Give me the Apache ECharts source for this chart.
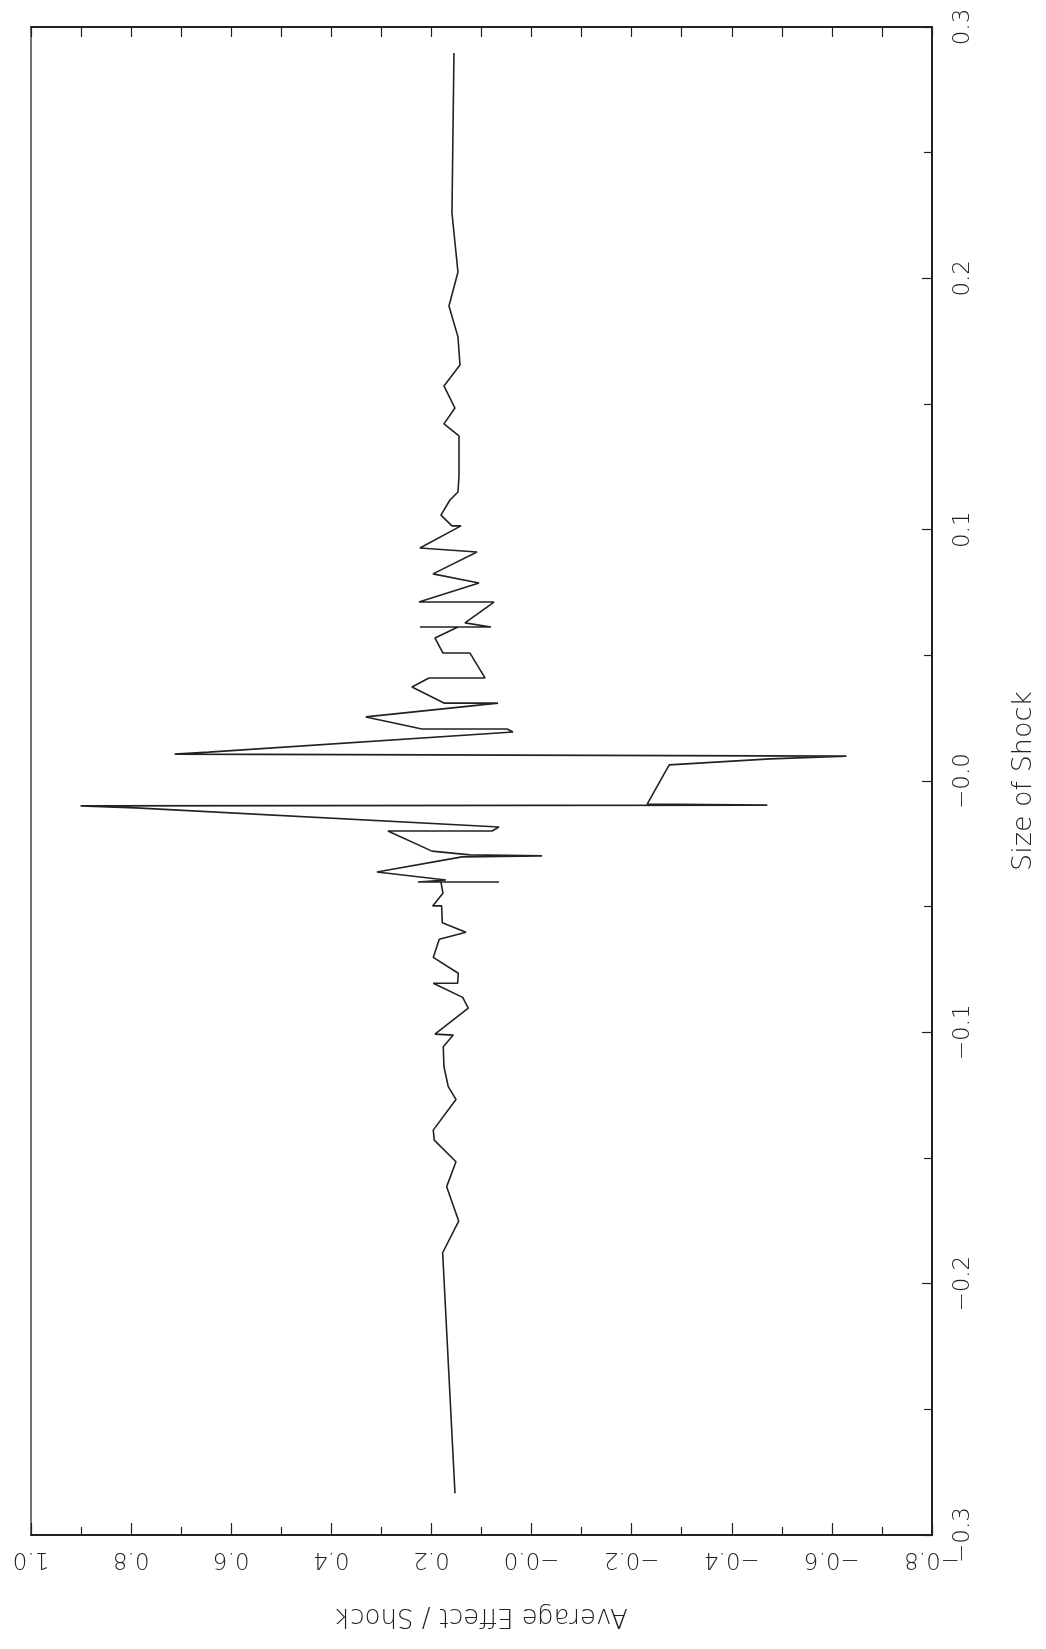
<!DOCTYPE html>
<html>
<head>
<meta charset="utf-8">
<script src="https://cdn.jsdelivr.net/npm/echarts@6/dist/echarts.min.js"></script>
<style>
  html, body { margin: 0; padding: 0; background: #ffffff; }
  #chart { width: 1046px; height: 1649px; }
</style>
</head>
<body>
<div id="chart"></div>
<script>
// Size of shock (vertical axis in the picture), in plotting order
const shockValues = [-0.2834, -0.1877, -0.1751, -0.1614, -0.1515, -0.1429, -0.1389, -0.1267, -0.1216, -0.1137,
  -0.1057, -0.1011, -0.1007, -0.0904, -0.0861, -0.0805, -0.0805, -0.0765, -0.0702, -0.0630,
  -0.0602, -0.0564, -0.0497, -0.0497, -0.0447, -0.0402, -0.0402, -0.0402, -0.0394, -0.0362,
  -0.0302, -0.0298, -0.0294, -0.0279, -0.0199, -0.0199, -0.0183, -0.0107, -0.0099, -0.0096,
  -0.0092, 0.0064, 0.0088, 0.0099, 0.0107, 0.0115, 0.0195, 0.0207, 0.0207, 0.0255,
  0.0310, 0.0310, 0.0374, 0.0410, 0.0410, 0.0509, 0.0509, 0.0569, 0.0613, 0.0613,
  0.0613, 0.0629, 0.0712, 0.0712, 0.0788, 0.0824, 0.0911, 0.0927, 0.1015, 0.1015,
  0.1058, 0.1118, 0.1150, 0.1214, 0.1373, 0.1421, 0.1484, 0.1572, 0.1655, 0.1767,
  0.1890, 0.2025, 0.2260, 0.2897];

// Average effect / shock (horizontal axis in the picture)
const effectValues = [0.153, 0.1776, 0.1456, 0.1696, 0.151, 0.1944, 0.1964, 0.151, 0.1664, 0.175,
  0.1764, 0.1564, 0.193, 0.1264, 0.1376, 0.1964, 0.1476, 0.1464, 0.1964, 0.1844,
  0.131, 0.1784, 0.1796, 0.1976, 0.177, 0.181, 0.065, 0.227, 0.171, 0.309,
  0.139, -0.021, 0.123, 0.199, 0.287, 0.079, 0.065, 0.791, 0.901, -0.471,
  -0.231, -0.275, -0.477, -0.629, 0.713, 0.645, 0.037, 0.049, 0.219, 0.331,
  0.067, 0.175, 0.239, 0.205, 0.093, 0.123, 0.177, 0.193, 0.147, 0.223,
  0.081, 0.133, 0.075, 0.225, 0.105, 0.197, 0.109, 0.223, 0.141, 0.159,
  0.181, 0.163, 0.147, 0.145, 0.145, 0.175, 0.153, 0.175, 0.143, 0.147,
  0.165, 0.147, 0.159, 0.155];

// Tick labels
const effectTickValues = [-0.8, -0.6, -0.4, -0.2, 0.0, 0.2, 0.4, 0.6, 0.8, 1.0];
const effectTickLabels = ['\u22120.8', '\u22120.6', '\u22120.4', '\u22120.2', '\u22120.0', '0.2', '0.4', '0.6', '0.8', '1.0'];
const shockTickValues = [-0.3, -0.2, -0.1, 0.0, 0.1, 0.2, 0.3];
const shockTickLabels = ['\u22120.3', '\u22120.2', '\u22120.1', '\u22120.0', '0.1', '0.2', '0.3'];

const effectAxisName = 'Average Effect / Shock';
const shockAxisName = 'Size of Shock';

function lookupLabel(values, labels, v) {
  for (let i = 0; i < values.length; i++) {
    if (Math.abs(values[i] - v) < 1e-6) return labels[i];
  }
  return '';
}

const seriesData = shockValues.map((s, i) => [effectValues[i], s]);

const FONT = "'DejaVu Sans', 'Liberation Sans', sans-serif";
const INK = '#222222';

const chart = echarts.init(document.getElementById('chart'), null, { renderer: 'canvas' });
chart.setOption({
  backgroundColor: '#ffffff',
  animation: false,
  grid: {
    left: 31, right: 114, top: 27, bottom: 114,
    show: true, borderColor: '#444', borderWidth: 1.5, backgroundColor: 'transparent'
  },
  xAxis: [
    {
      type: 'value', position: 'bottom', inverse: true,
      min: -0.8, max: 1.0, interval: 0.2,
      axisLine: { show: true, onZero: false, lineStyle: { color: INK, width: 2 } },
      axisTick: { show: true, inside: true, length: 12, lineStyle: { color: INK, width: 1.2 } },
      minorTick: { show: true, splitNumber: 2, length: 8, lineStyle: { color: INK, width: 1.2 } },
      splitLine: { show: false },
      minorSplitLine: { show: false },
      axisLabel: {
        rotate: 180, margin: 12, fontSize: 23, fontFamily: FONT, fontWeight: 200, color: INK,
        formatter: v => lookupLabel(effectTickValues, effectTickLabels, v)
      },
      name: effectAxisName, nameLocation: 'middle', nameGap: 68, nameRotate: 180,
      nameTextStyle: { fontSize: 26, fontFamily: FONT, fontWeight: 200, color: INK }
    },
    {
      type: 'value', position: 'top', inverse: true,
      min: -0.8, max: 1.0, interval: 0.1,
      axisLine: { show: true, onZero: false, lineStyle: { color: INK, width: 2 } },
      axisTick: { show: true, inside: true, length: 10, lineStyle: { color: INK, width: 1.2 } },
      axisLabel: { show: false },
      splitLine: { show: false }
    }
  ],
  yAxis: [
    {
      type: 'value', position: 'right',
      min: -0.3, max: 0.3, interval: 0.1,
      axisLine: { show: true, onZero: false, lineStyle: { color: INK, width: 2 } },
      axisTick: { show: true, inside: true, length: 10, lineStyle: { color: INK, width: 1.2 } },
      minorTick: { show: true, splitNumber: 2, length: 8, lineStyle: { color: INK, width: 1.2 } },
      splitLine: { show: false },
      minorSplitLine: { show: false },
      axisLabel: {
        rotate: 90, margin: 20, fontSize: 23, fontFamily: FONT, fontWeight: 200, color: INK,
        formatter: v => lookupLabel(shockTickValues, shockTickLabels, v)
      },
      name: shockAxisName, nameLocation: 'middle', nameGap: 78, nameRotate: 90,
      nameTextStyle: { fontSize: 27, fontFamily: FONT, fontWeight: 200, color: INK }
    }
  ],
  series: [
    {
      type: 'line',
      xAxisIndex: 0, yAxisIndex: 0,
      data: seriesData,
      showSymbol: false, symbol: 'none',
      smooth: false,
      lineStyle: { color: INK, width: 1.6 },
      z: 3
    }
  ]
});
</script>
</body>
</html>
